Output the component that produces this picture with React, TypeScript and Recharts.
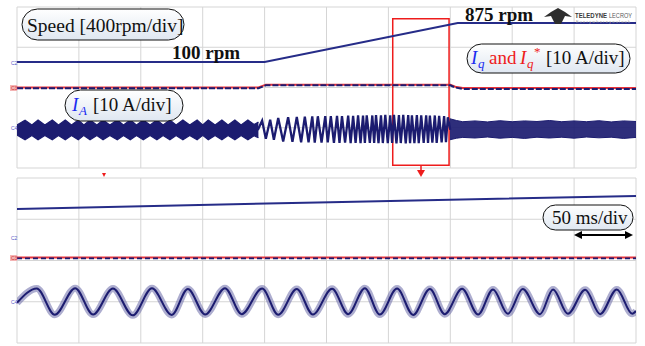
import React from "react";
import {
    Area,
    CartesianGrid,
    ComposedChart,
    Line,
    ReferenceArea,
    XAxis,
    YAxis,
} from "recharts";

// scope grid: 10 horizontal divisions, 8 vertical divisions
const xDivs = [0, 1, 2, 3, 4, 5, 6, 7, 8, 9, 10];
const yDivs = [-4, -3, -2, -1, 0, 1, 2, 3, 4];

// ---- upper capture (values in divisions) ----
const speedTop = [[0, 1.27], [4.0, 1.27], [7.12, 3.21], [10, 3.21]];
const iqRefTop = [[0, 0.0], [3.9, 0.0], [4.02, 0.14], [7.0, 0.14], [7.08, 0.04], [7.2, -0.03], [10, -0.03]];
const iqTop = [[0, -0.04], [3.9, -0.04], [4.02, 0.11], [7.0, 0.11], [7.08, 0.0], [7.2, -0.07], [10, -0.07]];

// phase current at 100 rpm: beat envelope [t, low, high]
const iaTopBeat = [
    [0.0, -2.36, -1.86], [0.13, -2.6, -1.62], [0.24, -2.38, -1.86], [0.34, -2.6, -1.62],
    [0.45, -2.38, -1.86], [0.57, -2.6, -1.62], [0.67, -2.38, -1.86], [0.78, -2.6, -1.62],
    [0.88, -2.38, -1.86], [0.99, -2.6, -1.62], [1.08, -2.38, -1.86], [1.18, -2.6, -1.62],
    [1.29, -2.38, -1.86], [1.39, -2.6, -1.62], [1.5, -2.38, -1.86], [1.62, -2.6, -1.62],
    [1.72, -2.38, -1.86], [1.83, -2.6, -1.62], [1.93, -2.38, -1.86], [2.04, -2.6, -1.62],
    [2.15, -2.38, -1.86], [2.26, -2.6, -1.62], [2.36, -2.38, -1.86], [2.47, -2.6, -1.62],
    [2.57, -2.38, -1.86], [2.68, -2.6, -1.62], [2.79, -2.38, -1.86], [2.91, -2.6, -1.62],
    [3.0, -2.38, -1.86], [3.09, -2.6, -1.62], [3.2, -2.38, -1.86], [3.31, -2.6, -1.62],
    [3.41, -2.38, -1.86], [3.52, -2.6, -1.62], [3.62, -2.38, -1.86], [3.73, -2.6, -1.62],
    [3.83, -2.4, -1.84], [3.9, -2.5, -1.72],
];

// phase current during the ramp: peaks and troughs [t, value]
const iaTopSweep = [
    [3.89, -2.11], [3.96, -1.65], [4.02, -2.55], [4.09, -1.6], [4.15, -2.6], [4.22, -1.52],
    [4.3, -2.68], [4.38, -1.48], [4.45, -2.7], [4.52, -1.46], [4.59, -2.72], [4.65, -1.45],
    [4.71, -2.72], [4.77, -1.44], [4.81, -2.74], [4.86, -1.43], [4.92, -2.74], [4.98, -1.42],
    [5.02, -2.73], [5.07, -1.42], [5.12, -2.75], [5.17, -1.41], [5.21, -2.75], [5.25, -1.42],
    [5.3, -2.74], [5.35, -1.4], [5.39, -2.76], [5.43, -1.41], [5.47, -2.75], [5.51, -1.39],
    [5.55, -2.76], [5.59, -1.4], [5.62, -2.76], [5.65, -1.38], [5.7, -2.75], [5.74, -1.39],
    [5.77, -2.76], [5.8, -1.37], [5.84, -2.77], [5.88, -1.38], [5.91, -2.76], [5.95, -1.36],
    [5.99, -2.77], [6.03, -1.38], [6.06, -2.76], [6.09, -1.36], [6.13, -2.78], [6.17, -1.37],
    [6.2, -2.76], [6.24, -1.36], [6.28, -2.78], [6.32, -1.37], [6.35, -2.77], [6.38, -1.38],
    [6.42, -2.76], [6.46, -1.37], [6.49, -2.77], [6.53, -1.39], [6.57, -2.75], [6.61, -1.38],
    [6.64, -2.76], [6.67, -1.4], [6.71, -2.74], [6.75, -1.39], [6.78, -2.75], [6.82, -1.41],
    [6.86, -2.73], [6.9, -1.42], [6.93, -2.72], [6.96, -1.48], [7.0, -2.1],
];

// phase current at 875 rpm: noisy band [t, low, high]
const iaTopTail = [
    [6.99, -2.6, -1.55], [7.1, -2.52, -1.64], [7.2, -2.48, -1.7], [7.4, -2.51, -1.66],
    [7.6, -2.46, -1.71], [7.8, -2.52, -1.65], [8.0, -2.48, -1.7], [8.2, -2.53, -1.66],
    [8.4, -2.47, -1.69], [8.6, -2.51, -1.64], [8.8, -2.47, -1.7], [9.0, -2.52, -1.66],
    [9.2, -2.46, -1.7], [9.4, -2.5, -1.65], [9.6, -2.47, -1.71], [9.8, -2.53, -1.66],
    [10, -2.48, -1.69],
];

// zoomed window of the upper capture (divisions)
const zoomWindow = { x1: 6.07, x2: 6.98, y1: -3.86, y2: 3.41 };

// ---- lower capture (zoom of the red window) ----
const speedBot = [[0, 2.5], [5.06, 2.83], [10, 3.13]];
const iqRefBot = [[0, 0.15], [10, 0.15]];
const iqBot = [[0, 0.1], [10, 0.1]];
const iaBot = [
    [0, -2.05], [0.32, -1.36], [0.61, -2.63], [0.94, -1.34], [1.23, -2.62], [1.55, -1.36],
    [1.87, -2.66], [2.18, -1.35], [2.5, -2.64], [2.76, -1.38], [3.04, -2.62], [3.36, -1.34],
    [3.63, -2.6], [3.96, -1.36], [4.22, -2.63], [4.52, -1.38], [4.78, -2.62], [5.09, -1.37],
    [5.35, -2.6], [5.62, -1.34], [5.86, -2.62], [6.14, -1.36], [6.4, -2.64], [6.67, -1.38],
    [6.91, -2.6], [7.19, -1.37], [7.45, -2.62], [7.69, -1.4], [7.93, -2.58], [8.17, -1.38],
    [8.45, -2.6], [8.66, -1.4], [8.9, -2.58], [9.18, -1.42], [9.42, -2.6], [9.69, -1.4],
    [9.94, -2.58], [10, -2.45],
];

const pts = (rows: number[][]) => rows.map(([t, v]) => ({ t, v }));
const band = (rows: number[][]) => rows.map(([t, lo, hi]) => ({ t, r: [lo, hi] }));

const TRACE = "#1c1c70";
const REF = "#e8343c";
const GRID = "#d5d5d5";
const SERIF = '"Liberation Serif", "Times New Roman", serif';

function Axes() {
    return (
        <>
            <XAxis type="number" dataKey="t" domain={[0, 10]} ticks={xDivs} hide allowDataOverflow />
            <YAxis type="number" domain={[-4, 4]} ticks={yDivs} hide allowDataOverflow />
        </>
    );
}

function TopPanel() {
    return (
        <ComposedChart width={645} height={173} margin={{ top: 7, right: 9, bottom: 5, left: 17 }}>
            <CartesianGrid stroke={GRID} />
            {Axes()}
            <Area data={band(iaTopBeat)} dataKey="r" type="linear" stroke={TRACE} strokeWidth={1.2} fill={TRACE} fillOpacity={1} isAnimationActive={false} />
            <Line data={pts(iaTopSweep)} dataKey="v" type="linear" stroke={TRACE} strokeWidth={2.3} dot={false} isAnimationActive={false} />
            <Area data={band(iaTopTail)} dataKey="r" type="linear" stroke={TRACE} strokeWidth={1} fill={TRACE} fillOpacity={0.92} isAnimationActive={false} />
            <Line data={pts(iqRefTop)} dataKey="v" type="linear" stroke={REF} strokeWidth={2} dot={false} isAnimationActive={false} />
            <Line data={pts(iqTop)} dataKey="v" type="linear" stroke={TRACE} strokeWidth={2} strokeDasharray="6 2" dot={false} isAnimationActive={false} />
            <Line data={pts(speedTop)} dataKey="v" type="linear" stroke="#262c88" strokeWidth={2} dot={false} isAnimationActive={false} />
            <ReferenceArea {...zoomWindow} fill="none" stroke="#ee1c1c" strokeWidth={1.5} ifOverflow="visible" />
        </ComposedChart>
    );
}

function BottomPanel() {
    return (
        <ComposedChart width={645} height={173} margin={{ top: 5, right: 9, bottom: 3, left: 17 }}>
            <CartesianGrid stroke={GRID} />
            {Axes()}
            <Line data={pts(iaBot)} dataKey="v" type="monotone" stroke="#6a6aa8" strokeOpacity={0.55} strokeWidth={7} dot={false} isAnimationActive={false} />
            <Line data={pts(iaBot)} dataKey="v" type="monotone" stroke={TRACE} strokeWidth={2} dot={false} isAnimationActive={false} />
            <Line data={pts(iqRefBot)} dataKey="v" type="linear" stroke={REF} strokeWidth={2} dot={false} isAnimationActive={false} />
            <Line data={pts(iqBot)} dataKey="v" type="linear" stroke={TRACE} strokeWidth={1.8} strokeDasharray="5 3" dot={false} isAnimationActive={false} />
            <Line data={pts(speedBot)} dataKey="v" type="linear" stroke="#262c88" strokeWidth={2} dot={false} isAnimationActive={false} />
        </ComposedChart>
    );
}

function Pill({ x, y, w, h }: { x: number; y: number; w: number; h: number }) {
    return <rect x={x} y={y} width={w} height={h} rx={h / 2} fill="url(#pill)" stroke="#111" strokeWidth={1} />;
}

function Overlay() {
    return (
        <svg width={645} height={346} style={{ position: "absolute", left: 0, top: 0, pointerEvents: "none" }}>
            <defs>
                <linearGradient id="pill" x1="0" y1="0" x2="0" y2="1">
                    <stop offset="0%" stopColor="#ffffff" />
                    <stop offset="100%" stopColor="#dfe7f1" />
                </linearGradient>
            </defs>

            {/* channel markers */}
            <g fontFamily="Liberation Sans, sans-serif" fontSize={5}>
                <text x={11} y={65} fill="#5858c8">C2</text>
                <rect x={10} y={85} width={7} height={6} fill="#f4b4b4" />
                <text x={11} y={90} fill="#d03030">C3</text>
                <text x={11} y={130} fill="#5858c8">C4</text>
                <text x={11} y={240} fill="#5858c8">C2</text>
                <rect x={10} y={255} width={7} height={6} fill="#f4b4b4" />
                <text x={11} y={260} fill="#d03030">C3</text>
                <text x={11} y={304} fill="#5858c8">C4</text>
            </g>

            {/* labels */}
            <Pill x={22} y={9} w={162} h={31} />
            <text x={27} y={32} fontFamily={SERIF} fontSize={19.5} fill="#111">Speed [400rpm/div]</text>

            <Pill x={65} y={90} w={118} h={31} />
            <text x={72} y={111} fontFamily={SERIF} fontSize={19} fontStyle="italic" fill="#1a2cf0">I</text>
            <text x={79} y={115} fontFamily={SERIF} fontSize={13} fontStyle="italic" fill="#1a2cf0">A</text>
            <text x={93} y={111} fontFamily={SERIF} fontSize={19} fill="#111">[10 A/div]</text>

            <text x={172} y={59} fontFamily={SERIF} fontSize={19} fontWeight="bold" fill="#111">100 rpm</text>
            <text x={465} y={21} fontFamily={SERIF} fontSize={19} fontWeight="bold" fill="#111">875 rpm</text>

            <Pill x={467} y={44} w={163} h={29} />
            <text x={471} y={64} fontFamily={SERIF} fontSize={19} fontStyle="italic" fill="#1a2cf0">I</text>
            <text x={478} y={68} fontFamily={SERIF} fontSize={13} fontStyle="italic" fill="#1a2cf0">q</text>
            <text x={489} y={64} fontFamily={SERIF} fontSize={19} fill="#ee1c1c">and</text>
            <text x={520} y={64} fontFamily={SERIF} fontSize={19} fontStyle="italic" fill="#ee1c1c">I</text>
            <text x={527} y={68} fontFamily={SERIF} fontSize={13} fontStyle="italic" fill="#ee1c1c">q</text>
            <text x={534} y={56} fontFamily={SERIF} fontSize={13} fill="#ee1c1c">*</text>
            <text x={546} y={64} fontFamily={SERIF} fontSize={19} fill="#111">[10 A/div]</text>

            <Pill x={543} y={205} w={90} h={25} />
            <text x={552} y={224} fontFamily={SERIF} fontSize={19} fill="#111">50 ms/div</text>
            <line x1={580} y1={235} x2={627} y2={235} stroke="#000" strokeWidth={2} />
            <polygon points="574,235 582,231 582,239" fill="#000" />
            <polygon points="633,235 625,231 625,239" fill="#000" />

            {/* logo */}
            <polygon points="544,17 551,12 558,8 565,12 572,17 565,16 561,24 555,24 551,16" fill="#2e2e2e" />
            <text x={575} y={18} fontFamily="Liberation Sans, sans-serif" fontSize={6.5} fontWeight="bold" fill="#3a3a3a" textLength={32} lengthAdjust="spacingAndGlyphs">TELEDYNE</text>
            <text x={609} y={18} fontFamily="Liberation Sans, sans-serif" fontSize={6.5} fill="#5a5a5a" textLength={23} lengthAdjust="spacingAndGlyphs">LECROY</text>
            <text x={576} y={23} fontFamily="Liberation Sans, sans-serif" fontSize={4} fill="#9a9a9a" textLength={54}>Everywhereyoulook</text>

            {/* zoom marker */}
            <line x1={421} y1={165} x2={421} y2={171} stroke="#ee1c1c" strokeWidth={1.5} />
            <polygon points="417,170 425,170 421,177" fill="#ee1c1c" />
            <polygon points="102,173 106,173 104,177" fill="#ee1c1c" />
        </svg>
    );
}

export default function App() {
    return (
        <div style={{ position: "absolute", left: 0, top: 0, width: 645, height: 346, background: "#fff", overflow: "hidden" }}>
            <div style={{ position: "absolute", left: 0, top: 0 }}>
                <TopPanel />
            </div>
            <div style={{ position: "absolute", left: 0, top: 173 }}>
                <BottomPanel />
            </div>
            <Overlay />
        </div>
    );
}
